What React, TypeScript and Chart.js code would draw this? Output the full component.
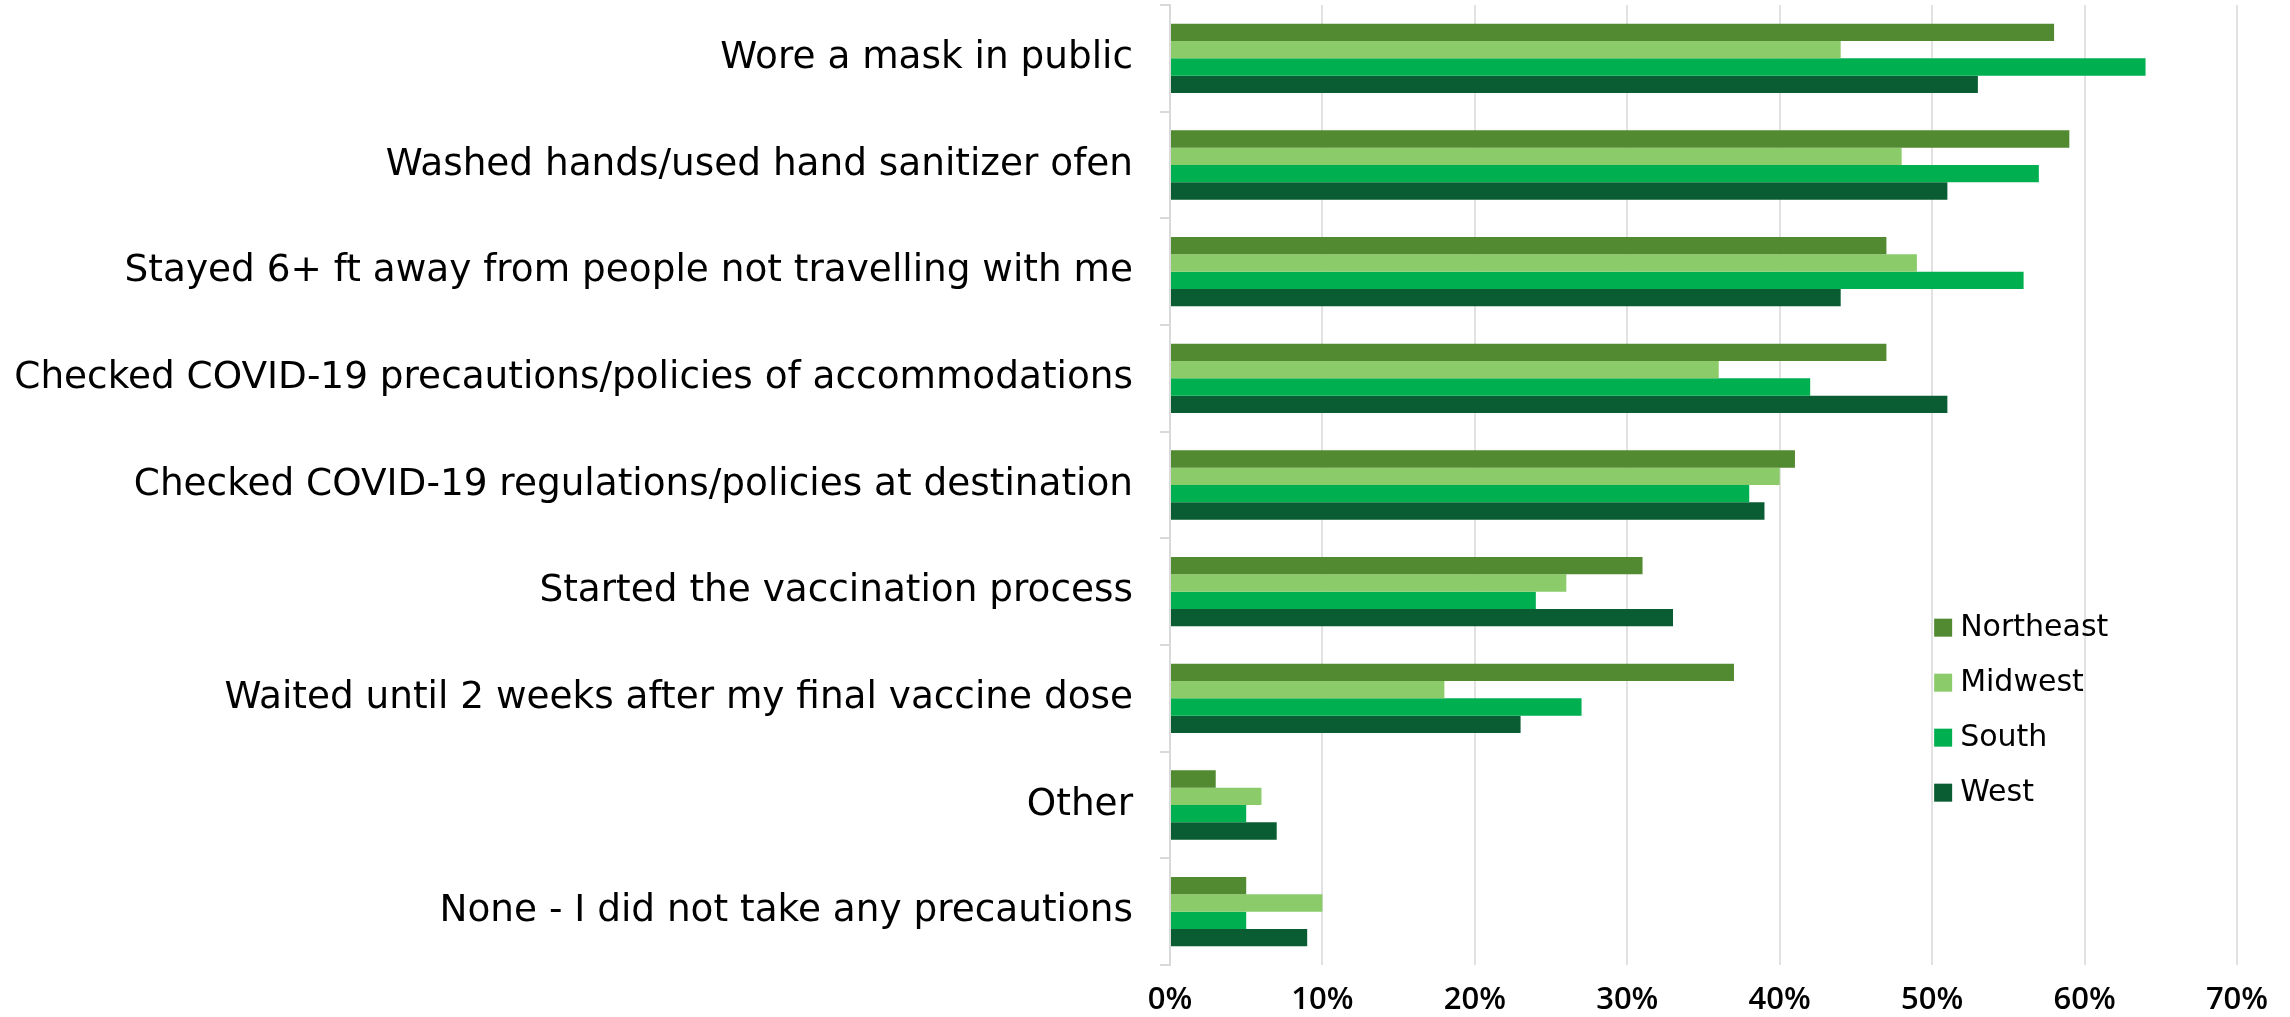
import React, { useEffect, useRef } from "react";
import { Chart, registerables } from "chart.js";

Chart.register(...registerables);

const categories = [
  "Wore a mask in public",
  "Washed hands/used hand sanitizer ofen",
  "Stayed 6+ ft away from people not travelling with me",
  "Checked COVID-19 precautions/policies of accommodations",
  "Checked COVID-19 regulations/policies at destination",
  "Started the vaccination process",
  "Waited until 2 weeks after my final vaccine dose",
  "Other",
  "None - I did not take any precautions",
];

const seriesNames = ["Northeast", "Midwest", "South", "West"];
const northeast = [58, 59, 47, 47, 41, 31, 37, 3, 5];
const midwest = [44, 48, 49, 36, 40, 26, 18, 6, 10];
const south = [64, 57, 56, 42, 38, 24, 27, 5, 5];
const west = [53, 51, 44, 51, 39, 33, 23, 7, 9];
const seriesColors = ["#528A32", "#8BCB6A", "#00AF50", "#0A5C32"];
const xTicks = [0, 10, 20, 30, 40, 50, 60, 70];

const FONT = "'DejaVu Sans', sans-serif";
const TICKFONT = "'Open Sans', sans-serif";

const legendPlugin = {
  id: "customLegend",
  afterDraw(chart: any) {
    const ctx = chart.ctx;
    const xs = chart.scales.x;
    const ys = chart.scales.y;
    const x0 = xs.getPixelForValue(50) + 2;
    const yStart = ys.getPixelForValue(5) + 36;
    const step = 55;
    ctx.save();
    ctx.font = `30px ${FONT}`;
    ctx.textBaseline = "middle";
    ctx.textAlign = "left";
    chart.data.datasets.forEach((ds: any, i: number) => {
      const cy = yStart + i * step;
      ctx.fillStyle = ds.backgroundColor;
      ctx.fillRect(x0, cy - 9, 18, 18);
      ctx.fillStyle = "#000";
      ctx.fillText(ds.label, x0 + 26, cy + 1);
    });
    ctx.restore();
  },
};

export default function App() {
  const ref = useRef<HTMLCanvasElement>(null);
  useEffect(() => {
    if (!ref.current) return;
    const data = [northeast, midwest, south, west];
    const chart = new Chart(ref.current, {
      type: "bar",
      data: {
        labels: categories,
        datasets: seriesNames.map((name, i) => ({
          label: name,
          data: data[i],
          backgroundColor: seriesColors[i],
          barPercentage: 1,
          categoryPercentage: 0.65,
        })),
      },
      options: {
        indexAxis: "y",
        responsive: false,
        animation: false,
        devicePixelRatio: 1,
        layout: { padding: { left: 0, right: 53, top: 5, bottom: 0 } },
        plugins: { legend: { display: false }, tooltip: { enabled: false } },
        scales: {
          x: {
            min: xTicks[0],
            max: xTicks[xTicks.length - 1],
            afterBuildTicks: (scale: any) => {
              scale.ticks = xTicks.map((v) => ({ value: v }));
            },
            afterFit: (scale: any) => {
              scale.height = 52;
              scale.paddingLeft = 0;
            },
            grid: { color: "#e2e2e2", lineWidth: 2, drawTicks: false },
            border: { display: false },
            ticks: {
              padding: 17,
              color: "#000",
              font: { family: TICKFONT, size: 31, weight: "600" },
              callback: (v: any) => `${v}%`,
            },
          },
          y: {
            afterFit: (scale: any) => {
              scale.width = 1170;
              scale.paddingTop = 0;
              scale.paddingBottom = 0;
            },
            grid: {
              drawOnChartArea: false,
              color: "#d9d9d9",
              lineWidth: 2,
              tickLength: 10,
            },
            border: { display: true, color: "#d9d9d9", width: 2 },
            ticks: {
              padding: 27,
              color: "#000",
              font: { family: FONT, size: 37.4 },
            },
          },
        },
      },
      plugins: [legendPlugin],
    } as any);
    return () => chart.destroy();
  }, []);
  return (
    <div
      style={{
        position: "fixed",
        left: 0,
        top: 0,
        width: 2290,
        height: 1017,
        background: "#fff",
      }}
    >
      <canvas ref={ref} width={2290} height={1017} />
    </div>
  );
}
